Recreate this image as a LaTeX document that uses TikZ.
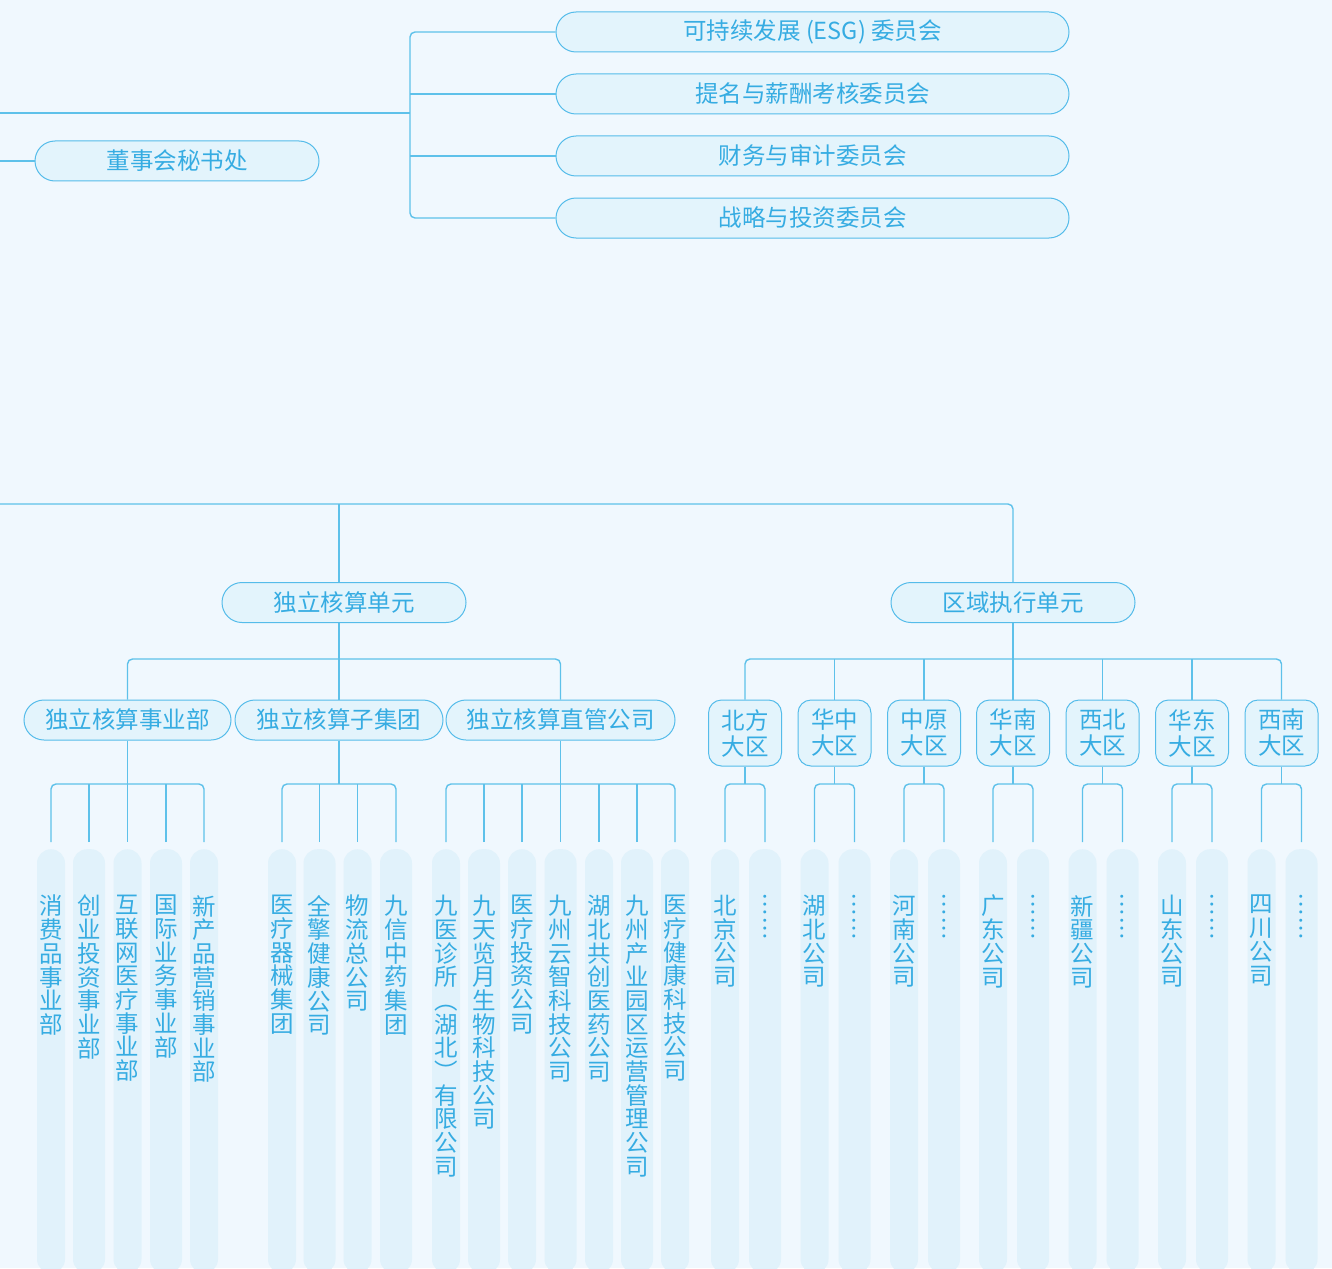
\documentclass[tikz,border=0pt]{standalone}
\usepackage{fontspec}
\newfontfamily\cjk{Noto Sans CJK SC}
\definecolor{bgc}{HTML}{F0F8FE}
\definecolor{boxf}{HTML}{E3F4FC}
\definecolor{boxd}{HTML}{55BCEA}
\definecolor{linec}{HTML}{5EC1EA}
\definecolor{txtc}{HTML}{36ACE2}
\definecolor{pillf}{HTML}{E1F2FB}
\newcommand\colpill[4]{%
  \node[pill, minimum width=#3pt] (#1) at (#2,849) {};
  \node[vtxt] (#1t) at (#2,895) {#4};
}
\begin{document}
\begin{tikzpicture}[x=1pt,y=-1pt,
  link/.style={draw=linec, line width=1.4pt},
  rc/.style={rounded corners=5pt},
  cbox/.style={draw=boxd, fill=boxf, line width=1pt, rounded corners=20pt, minimum height=40pt, inner sep=0pt, text=txtc, font=\cjk\fontsize{23.5}{26}\selectfont},
  rbox/.style={cbox, rounded corners=13pt, minimum width=73pt, minimum height=66pt, align=center},
  pill/.style={fill=pillf, rounded corners=14pt, minimum height=424pt, anchor=north, inner sep=0pt},
  vtxt/.style={text=txtc, font=\cjk\fontsize{23.5}{23.7}\selectfont, align=center, inner sep=0pt, anchor=north},
]
\useasboundingbox (0,0) rectangle (1332,1268);
\fill[bgc] (0,0) rectangle (1332,1268);

% ---- top: committees
\node[cbox, minimum width=513pt] (esg) at (812.5,32) {可持续发展 (ESG) 委员会};
\node[cbox, minimum width=513pt] (nom) at (812.5,94) {提名与薪酬考核委员会};
\node[cbox, minimum width=513pt] (aud) at (812.5,156) {财务与审计委员会};
\node[cbox, minimum width=513pt] (str) at (812.5,218) {战略与投资委员会};
\node[cbox, minimum width=284pt] (sec) at (177,161) {董事会秘书处};
\coordinate (in1) at (0,113);
\coordinate (tb) at (410,113);
\coordinate (in2) at (0,161);
\draw[link] (in1) -- (tb);
\draw[link,rc] (esg.west) -| (tb) |- (str.west);
\draw[link] (nom.west) -- (nom.west -| tb);
\draw[link] (aud.west) -- (aud.west -| tb);
\draw[link] (in2) -- (sec.west);

% ---- middle units
\node[cbox, minimum width=244pt] (unit) at (344,602.5) {独立核算单元};
\node[cbox, minimum width=244pt] (reg) at (1013,602.5) {区域执行单元};
\coordinate (in3) at (0,504);
\coordinate (m1) at (339,504);
\draw[link,rc] (in3) -| (reg.north);
\draw[link] (m1) -- (m1 |- unit.north);

\node[cbox, minimum width=207pt] (d1) at (127.5,720) {独立核算事业部};
\node[cbox, minimum width=208pt] (d2) at (339,720) {独立核算子集团};
\node[cbox, minimum width=229pt] (d3) at (560.5,720) {独立核算直管公司};
\coordinate (ub) at (339,659);
\draw[link,rc] (d1.north) |- (ub) -| (d3.north);
\draw[link] (ub |- unit.south) -- (d2.north);

\foreach \n/\x/\t in {1/745/北方,2/834.5/华中,3/924/中原,4/1013/华南,5/1102.5/西北,6/1192/华东,7/1281.5/西南} {
  \node[rbox] (r\n) at (\x,733) {\t\\大区};
}
\coordinate (rb) at (1013,659);
\draw[link,rc] (r1.north) |- (rb) -| (r7.north);
\draw[link] (reg.south) -- (r4.north);
\foreach \n in {2,3,5,6} \draw[link] (r\n.north) -- (r\n.north |- rb);

% ---- 事业部 columns
\colpill{a1}{51}{28}{消\\费\\品\\事\\业\\部}
\colpill{a2}{89}{32}{创\\业\\投\\资\\事\\业\\部}
\colpill{a3}{127.5}{28}{互\\联\\网\\医\\疗\\事\\业\\部}
\colpill{a4}{166}{32}{国\\际\\业\\务\\事\\业\\部}
\colpill{a5}{204}{28}{新\\产\\品\\营\\销\\事\\业\\部}
\coordinate (j1) at (127.5,784);
\draw[link,rc] ([yshift=7pt]a1.north) |- (j1) -| ([yshift=7pt]a5.north);
\draw[link] (d1.south) -- ([yshift=7pt]a3.north);
\foreach \n in {a2,a4} \draw[link] ([yshift=7pt]\n.north) -- (\n.north |- j1);

% ---- 子集团 columns
\colpill{b1}{282}{28}{医\\疗\\器\\械\\集\\团}
\colpill{b2}{319.5}{32}{全\\擎\\健\\康\\公\\司}
\colpill{b3}{357.5}{28}{物\\流\\总\\公\\司}
\colpill{b4}{396}{32}{九\\信\\中\\药\\集\\团}
\coordinate (j2) at (339,784);
\draw[link,rc] ([yshift=7pt]b1.north) |- (j2) -| ([yshift=7pt]b4.north);
\draw[link] (d2.south) -- (j2);
\foreach \n in {b2,b3} \draw[link] ([yshift=7pt]\n.north) -- (\n.north |- j2);

% ---- 直管公司 columns
\colpill{c1}{446}{28}{九\\医\\诊\\所\\︵\\湖\\北\\︶\\有\\限\\公\\司}
\colpill{c2}{484}{32}{九\\天\\览\\月\\生\\物\\科\\技\\公\\司}
\colpill{c3}{522}{28}{医\\疗\\投\\资\\公\\司}
\colpill{c4}{560.5}{32}{九\\州\\云\\智\\科\\技\\公\\司}
\colpill{c5}{599}{28}{湖\\北\\共\\创\\医\\药\\公\\司}
\colpill{c6}{637}{32}{九\\州\\产\\业\\园\\区\\运\\营\\管\\理\\公\\司}
\colpill{c7}{675}{28}{医\\疗\\健\\康\\科\\技\\公\\司}
\coordinate (j3) at (560.5,784);
\draw[link,rc] ([yshift=7pt]c1.north) |- (j3) -| ([yshift=7pt]c7.north);
\draw[link] (d3.south) -- ([yshift=7pt]c4.north);
\foreach \n in {c2,c3,c5,c6} \draw[link] ([yshift=7pt]\n.north) -- (\n.north |- j3);

% ---- region columns
\foreach \n/\x/\p/\q in {1/745/北/京,2/834.5/湖/北,3/924/河/南,4/1013/广/东,5/1102.5/新/疆,6/1192/山/东,7/1281.5/四/川} {
  \colpill{l\n}{\x-20}{28}{\p\\\q\\公\\司}
  \colpill{s\n}{\x+20}{32}{︙\\︙}
  \coordinate (jr\n) at (\x,784);
  \draw[link,rc] ([yshift=7pt]l\n.north) |- (jr\n) -| ([yshift=7pt]s\n.north);
  \draw[link] (r\n.south) -- (jr\n);
}
\end{tikzpicture}
\end{document}
